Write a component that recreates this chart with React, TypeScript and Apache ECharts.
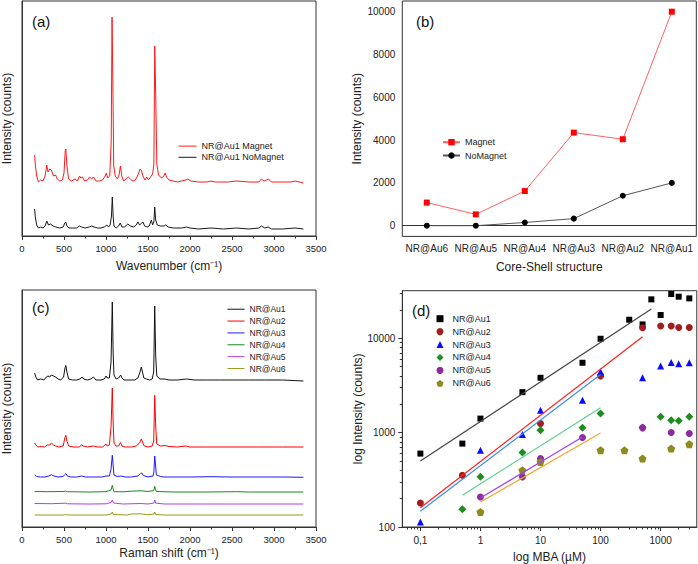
import React, { useEffect, useRef } from "react";
import * as echarts from "echarts";

const FONT = 'Arial, "Liberation Sans", sans-serif';

// ---------- Panel (a): spectra of NR@Au1 with / without magnet ----------
const aMagnet: number[][] = [
  [150, 81], [160, 70], [175, 60], [195, 54], [220, 56], [250, 55], [275, 60], [295, 71], [310, 64], [330, 67],
  [350, 66], [375, 60], [400, 61], [420, 57], [450, 55], [480, 56], [500, 63], [515, 86], [522, 87], [535, 70],
  [555, 57], [590, 55], [630, 57], [660, 55], [685, 60], [700, 58], [720, 59], [745, 55], [780, 56], [805, 59],
  [830, 57], [850, 59], [880, 55], [920, 55], [960, 56], [990, 60], [1005, 63], [1020, 58], [1045, 60], [1062, 95],
  [1072, 219], [1082, 150], [1092, 70], [1110, 60], [1135, 57], [1155, 61], [1172, 70], [1188, 60], [1210, 55],
  [1240, 57], [1265, 59], [1290, 57], [1320, 55], [1350, 56], [1380, 61], [1405, 67], [1420, 66], [1440, 60],
  [1465, 56], [1485, 59], [1505, 56], [1530, 59], [1555, 62], [1570, 72], [1580, 190], [1590, 150], [1605, 72],
  [1625, 61], [1660, 58], [1690, 60], [1705, 63], [1720, 59], [1750, 56], [1800, 55], [1850, 54], [1900, 55],
  [1950, 56], [1975, 57], [2010, 55], [2100, 54], [2200, 54], [2250, 55], [2300, 54], [2450, 54], [2550, 55],
  [2700, 54], [2820, 54], [2850, 57], [2880, 55], [2910, 56], [2935, 57], [2970, 54], [3100, 54], [3200, 54],
  [3250, 55], [3350, 53],
];
const aNoMagnet: number[][] = [
  [150, 27], [160, 18], [175, 11], [195, 8], [220, 9], [250, 8], [275, 10], [295, 15], [315, 11], [340, 12],
  [370, 10], [400, 9], [450, 8], [490, 9], [510, 13], [520, 14], [535, 10], [560, 8], [600, 8], [650, 8],
  [685, 10], [710, 9], [750, 8], [800, 9], [830, 10], [860, 9], [900, 8], [940, 8], [980, 9], [1010, 11],
  [1030, 9], [1050, 11], [1065, 20], [1075, 39], [1085, 20], [1095, 10], [1120, 8], [1150, 10], [1170, 13],
  [1190, 9], [1220, 9], [1260, 12], [1290, 10], [1330, 9], [1360, 11], [1380, 14], [1400, 11], [1425, 13],
  [1440, 14], [1460, 10], [1490, 9], [1515, 10], [1540, 16], [1555, 11], [1570, 14], [1580, 29], [1592, 16],
  [1610, 11], [1650, 10], [1690, 10], [1710, 11], [1740, 9], [1800, 8], [1900, 8], [1960, 9], [2000, 8],
  [2100, 7], [2250, 8], [2400, 7], [2550, 8], [2700, 7], [2820, 8], [2850, 10], [2890, 8], [2930, 9],
  [2970, 7], [3100, 7], [3250, 8], [3350, 7],
];

// ---------- Panel (b): intensity vs core-shell structure ----------
const bCategories = ["NR@Au6", "NR@Au5", "NR@Au4", "NR@Au3", "NR@Au2", "NR@Au1"];
const bMagnet = [1080, 530, 1620, 4350, 4040, 10000];
const bNoMagnet = [0, 0, 150, 330, 1400, 2000];
const bYMajor = [0, 2000, 4000, 6000, 8000, 10000];
const bYMinor = [1000, 3000, 5000, 7000, 9000];

// ---------- Panel (c): spectra of NR@Au1..6 ----------
const cAu1: number[][] = [
  [150, 154], [165, 150], [185, 147], [220, 148], [260, 147], [290, 150], [310, 151], [330, 150], [350, 152],
  [375, 151], [400, 150], [430, 148], [460, 147], [495, 150], [512, 159], [522, 161.5], [535, 155], [555, 148],
  [600, 147], [650, 147], [690, 148], [715, 150], [735, 148], [780, 147], [820, 148], [850, 150], [880, 147],
  [940, 147], [980, 148], [1000, 151], [1015, 149], [1040, 149], [1060, 165], [1075, 225], [1085, 175],
  [1095, 152], [1120, 148], [1150, 149], [1175, 152], [1190, 149], [1215, 147], [1260, 147], [1300, 147],
  [1340, 147], [1380, 149], [1405, 155], [1420, 160], [1432, 156], [1450, 149], [1480, 148], [1520, 147],
  [1550, 148], [1568, 155], [1580, 221], [1592, 170], [1605, 151], [1640, 148], [1700, 148], [1750, 147],
  [1850, 147], [1960, 148], [2050, 147], [2200, 147], [2350, 147], [2500, 147], [2700, 147], [2900, 147],
  [3100, 147], [3350, 146],
];
const cAu2: number[][] = [
  [150, 84], [165, 82], [190, 80], [230, 80.5], [270, 80], [300, 82], [330, 82], [350, 84], [375, 82], [400, 81],
  [440, 80], [490, 81], [510, 89], [522, 91.7], [535, 86], [555, 81], [620, 80], [680, 80], [710, 82], [730, 81],
  [780, 80], [850, 81], [900, 80], [960, 80], [1000, 83], [1015, 81], [1040, 82], [1060, 100], [1075, 139],
  [1085, 105], [1095, 84], [1120, 81], [1150, 81], [1172, 84.5], [1190, 81], [1230, 80], [1300, 80], [1360, 81],
  [1400, 84], [1420, 88], [1435, 85], [1455, 81], [1500, 80], [1550, 81], [1568, 86], [1580, 131.7], [1592, 100],
  [1605, 83], [1650, 81], [1700, 81.5], [1750, 80.5], [1850, 80], [1950, 81], [2000, 80], [2200, 80], [2500, 80],
  [2800, 80], [3100, 80], [3350, 80],
];
const cAu3: number[][] = [
  [150, 52], [175, 50.5], [220, 50], [270, 50], [320, 51], [350, 52.3], [380, 51], [430, 50], [490, 50.5],
  [510, 52.5], [522, 53.5], [540, 51], [580, 50], [650, 50], [710, 51], [760, 50], [850, 50], [950, 50],
  [1000, 51], [1040, 51], [1060, 58], [1075, 71.7], [1085, 62], [1095, 52], [1130, 50.5], [1175, 51], [1230, 50],
  [1300, 50], [1380, 51], [1410, 53.5], [1425, 54], [1445, 51.5], [1500, 50], [1560, 51], [1570, 55], [1580, 71],
  [1590, 62], [1600, 52], [1650, 50.5], [1700, 50], [1800, 50], [2000, 50], [2250, 50.3], [2500, 50], [2800, 50],
  [3100, 50], [3350, 49.7],
];
const cAu4: number[][] = [
  [150, 35.5], [300, 35.3], [500, 35.5], [520, 36], [540, 35.3], [800, 35], [1000, 35.3], [1060, 37],
  [1075, 41.7], [1085, 38], [1095, 35.3], [1200, 35.2], [1300, 35.8], [1420, 36.2], [1500, 35.5], [1570, 36.5],
  [1580, 40.7], [1590, 37.5], [1600, 35.5], [1800, 35], [2200, 35], [2550, 35.3], [2700, 35], [3350, 35],
];
const cAu5: number[][] = [
  [150, 23.5], [350, 23.3], [520, 23.8], [540, 23.2], [800, 23], [1000, 23.2], [1060, 24.5], [1075, 27],
  [1088, 24], [1200, 23], [1420, 23.5], [1500, 23], [1570, 24], [1580, 27], [1592, 23.8], [1700, 23],
  [2200, 23], [3350, 23],
];
const cAu6: number[][] = [
  [150, 12], [500, 12], [520, 12.5], [540, 12], [1000, 12], [1060, 13], [1075, 15], [1088, 12.5], [1250, 12],
  [1300, 13], [1420, 13.2], [1480, 12.3], [1570, 12.8], [1580, 15], [1592, 12.5], [1700, 12], [3350, 12],
];
const cNames = ["NR@Au1", "NR@Au2", "NR@Au3", "NR@Au4", "NR@Au5", "NR@Au6"];

// ---------- Panel (d): log intensity vs log MBA ----------
const dAu1: number[][] = [
  [0.1, 600], [0.5, 766], [1, 1410], [5, 2690], [10, 3820], [50, 5510], [100, 9900], [300, 15750],
  [500, 14050], [700, 25900], [1000, 17670], [1500, 29500], [2000, 27660], [3000, 26530],
];
const dAu2: number[][] = [
  [0.1, 180], [0.5, 354], [10, 1250], [100, 3980], [500, 12960], [1000, 13500], [1500, 13500], [2000, 13050],
  [3000, 13050],
];
const dAu3: number[][] = [
  [0.1, 113], [1, 652], [5, 955], [10, 1730], [50, 2210], [100, 4420], [500, 3820], [1000, 5080], [1500, 5550],
  [2000, 5375], [3000, 5510],
];
const dAu4: number[][] = [
  [0.5, 154], [1, 340], [5, 615], [10, 1062], [50, 1125], [100, 1596], [500, 1133], [1000, 1471], [1500, 1358],
  [2000, 1340], [3000, 1471],
];
const dAu5: number[][] = [
  [1, 208], [5, 340], [10, 531], [50, 887], [500, 1125], [1500, 1003], [3000, 978],
];
const dAu6: number[][] = [
  [1, 144], [5, 400], [10, 490], [100, 652], [250, 650], [500, 531], [1500, 678], [3000, 755],
];
const dFit1: number[][] = [[0.1, 502], [700, 20470]];
const dFit2: number[][] = [[0.1, 160], [500, 10400]];
const dFit3: number[][] = [[0.1, 147], [100, 4140]];
const dFit4: number[][] = [[0.5, 217], [100, 1833]];
const dFit5: number[][] = [[1, 203], [50, 902]];
const dFit6: number[][] = [[1, 184], [100, 990]];
const dXMajor = [0.1, 1, 10, 100, 1000];
const dXMinor = [
  0.06, 0.07, 0.08, 0.09, 0.2, 0.3, 0.4, 0.5, 0.6, 0.7, 0.8, 0.9, 2, 3, 4, 5, 6, 7, 8, 9,
  20, 30, 40, 50, 60, 70, 80, 90, 200, 300, 400, 500, 600, 700, 800, 900, 2000, 3000,
];
const dYMajor = [100, 1000, 10000];
const dYMinor = [200, 300, 400, 500, 600, 700, 800, 900, 2000, 3000, 4000, 5000, 6000, 7000, 8000, 9000, 20000, 30000];

const AX = "#333";
const plain = (v: number) => String(v);
const lbl = (size: number, margin: number) => ({ fontSize: size, color: "#222", margin, fontFamily: FONT });
const nameStyle = { fontSize: 12, color: "#222", fontFamily: FONT };

function spectrumX(gridIndex: number, name: string, nameGap: number) {
  return {
    type: "value", gridIndex, min: 0, max: 3500, interval: 500,
    axisLine: { lineStyle: { color: AX } },
    axisTick: { length: 4, lineStyle: { color: AX } },
    minorTick: { show: true, splitNumber: 2, length: 2.5, lineStyle: { color: AX } },
    axisLabel: { ...lbl(9.5, 7), formatter: plain },
    splitLine: { show: false },
    name, nameLocation: "middle", nameGap, nameTextStyle: nameStyle,
  };
}
function spectrumY(gridIndex: number, max: number) {
  return {
    type: "value", gridIndex, min: 0, max,
    axisLine: { lineStyle: { color: AX } },
    axisTick: { show: false }, axisLabel: { show: false }, splitLine: { show: false },
    name: "Intensity (counts)", nameLocation: "middle", nameGap: 9, nameTextStyle: nameStyle,
  };
}
function lineS(name: string, data: number[][], color: string, xi: number, yi: number) {
  return {
    type: "line", name, data, xAxisIndex: xi, yAxisIndex: yi, showSymbol: false,
    lineStyle: { color, width: 1 }, itemStyle: { color }, silent: true,
  };
}

const PENTAGON = "path://M0,-1 L0.951,-0.309 L0.588,0.809 L-0.588,0.809 L-0.951,-0.309 Z";

export default function App() {
  const ref = useRef<HTMLDivElement>(null);
  useEffect(() => {
    if (!ref.current) return;
    const chart = echarts.init(ref.current, undefined, { renderer: "svg" });
    const cColors = ["#111111", "#ff0000", "#1a1aff", "#1a8a1a", "#b040e0", "#9a9a20"];
    const cData = [cAu1, cAu2, cAu3, cAu4, cAu5, cAu6];
    const dData = [dAu1, dAu2, dAu3, dAu4, dAu5, dAu6];
    const dColors = ["#000000", "#a51c1c", "#0a0aff", "#1e8c1e", "#8e2a9e", "#8d8a1e"];
    const dSymbols = ["rect", "circle", "triangle", "diamond", "circle", PENTAGON];
    const dSizes = [6, 7, 7, 8, 7, 8];
    const dFits = [dFit1, dFit2, dFit3, dFit4, dFit5, dFit6];
    const dFitColors = ["#444444", "#ff2020", "#3a8ee6", "#5ccf8c", "#a040ff", "#f0a830"];

    const option: any = {
      animation: false,
      textStyle: { fontFamily: FONT },
      grid: [
        { left: 21.7, top: 1, width: 294.3, height: 235, show: true, borderColor: AX, borderWidth: 1 },
        { left: 402.3, top: 1, width: 294, height: 235.4, show: true, borderColor: AX, borderWidth: 1 },
        { left: 21.7, top: 290, width: 294.3, height: 237, show: true, borderColor: AX, borderWidth: 1 },
        { left: 402.3, top: 290.7, width: 294.5, height: 236.3, show: true, borderColor: AX, borderWidth: 1 },
      ],
      xAxis: [
        spectrumX(0, "Wavenumber (cm⁻¹)", 24),
        {
          type: "category", gridIndex: 1, data: bCategories, boundaryGap: true,
          axisLine: { lineStyle: { color: AX } },
          axisTick: { alignWithLabel: true, length: 4, lineStyle: { color: AX } },
          axisLabel: { ...lbl(10, 7), interval: 0 },
          splitLine: { show: false },
          name: "Core-Shell structure", nameLocation: "middle", nameGap: 25, nameTextStyle: nameStyle,
        },
        spectrumX(2, "Raman shift (cm⁻¹)", 20),
        {
          type: "log", logBase: 10, gridIndex: 3, min: 0.05, max: 4000,
          axisLine: { lineStyle: { color: AX } },
          axisTick: { customValues: dXMajor, length: 4, lineStyle: { color: AX } },
          axisLabel: {
            ...lbl(10, 8), customValues: dXMajor,
            formatter: (v: number) => (Math.abs(v - 0.1) < 1e-9 ? "0,1" : String(Math.round(v))),
          },
          splitLine: { show: false },
          name: "log MBA (µM)", nameLocation: "middle", nameGap: 24, nameTextStyle: nameStyle,
        },
        {
          type: "log", logBase: 10, gridIndex: 3, min: 0.05, max: 4000, position: "bottom", offset: 0,
          axisLine: { show: false },
          axisTick: { customValues: dXMinor, length: 2.5, lineStyle: { color: AX } },
          axisLabel: { show: false }, splitLine: { show: false },
        },
      ],
      yAxis: [
        spectrumY(0, 235),
        {
          type: "value", gridIndex: 1, min: -500, max: 10500,
          axisLine: { lineStyle: { color: AX } },
          axisTick: { customValues: bYMajor, length: 4, lineStyle: { color: AX } },
          axisLabel: { ...lbl(10, 7), customValues: bYMajor, formatter: plain },
          splitLine: { show: false },
          name: "Intensity (counts)", nameLocation: "middle", nameGap: 39, nameTextStyle: nameStyle,
        },
        {
          type: "value", gridIndex: 1, min: -500, max: 10500, position: "left", offset: 0,
          axisLine: { show: false },
          axisTick: { customValues: bYMinor, length: 2.5, lineStyle: { color: AX } },
          axisLabel: { show: false }, splitLine: { show: false },
        },
        spectrumY(2, 237),
        {
          type: "log", logBase: 10, gridIndex: 3, min: 100, max: 32000,
          axisLine: { lineStyle: { color: AX } },
          axisTick: { customValues: dYMajor, length: 4, lineStyle: { color: AX } },
          axisLabel: { ...lbl(10, 7), customValues: dYMajor, formatter: (v: number) => String(Math.round(v)) },
          splitLine: { show: false },
          name: "log Intensity (counts)", nameLocation: "middle", nameGap: 38, nameTextStyle: nameStyle,
        },
        {
          type: "log", logBase: 10, gridIndex: 3, min: 100, max: 32000, position: "left", offset: 0,
          axisLine: { show: false },
          axisTick: { customValues: dYMinor, length: 2.5, lineStyle: { color: AX } },
          axisLabel: { show: false }, splitLine: { show: false },
        },
      ],
      legend: [
        {
          data: ["NR@Au1 Magnet", "NR@Au1 NoMagnet"], orient: "vertical", left: 178, top: 141.5, padding: 0,
          itemWidth: 18, itemHeight: 9, itemGap: 2, selectedMode: false,
          itemStyle: { opacity: 0 }, lineStyle: { width: 1 },
          textStyle: { fontSize: 9, color: "#222", fontFamily: FONT },
        },
        {
          data: ["Magnet", "NoMagnet"], orient: "vertical", left: 442, top: 137.7, padding: 0,
          itemWidth: 17, itemHeight: 8, itemGap: 4.3, selectedMode: false,
          textStyle: { fontSize: 9, color: "#222", fontFamily: FONT },
        },
        {
          data: cNames.map((n) => "c:" + n), orient: "vertical", left: 227, top: 304.7, padding: 0,
          itemWidth: 17, itemHeight: 8, itemGap: 2.86, selectedMode: false,
          itemStyle: { opacity: 0 }, lineStyle: { width: 1 },
          formatter: (n: string) => n.slice(2),
          textStyle: { fontSize: 8.5, color: "#222", fontFamily: FONT },
        },
        {
          data: cNames.map((n) => "d:" + n), orient: "vertical", left: 436.5, top: 314.2, padding: 0,
          itemWidth: 7, itemHeight: 7, itemGap: 3.92, selectedMode: false,
          formatter: (n: string) => n.slice(2),
          textStyle: { fontSize: 9, color: "#222", fontFamily: FONT, padding: [0, 0, 0, 4] },
        },
      ],
      graphic: [
        { type: "text", left: 32, top: 14, style: { text: "(a)", fontSize: 15, fill: "#111", fontFamily: FONT } },
        { type: "text", left: 416, top: 14, style: { text: "(b)", fontSize: 15, fill: "#111", fontFamily: FONT } },
        { type: "text", left: 32, top: 299.5, style: { text: "(c)", fontSize: 15, fill: "#111", fontFamily: FONT } },
        { type: "text", left: 412, top: 303, style: { text: "(d)", fontSize: 15, fill: "#111", fontFamily: FONT } },
      ],
      series: [
        lineS("NR@Au1 Magnet", aMagnet, "#ff1a1a", 0, 0),
        lineS("NR@Au1 NoMagnet", aNoMagnet, "#1a1a1a", 0, 0),
        {
          type: "line", name: "Magnet", data: bMagnet, xAxisIndex: 1, yAxisIndex: 1,
          symbol: "rect", symbolSize: 6, lineStyle: { color: "#ff6060", width: 1 }, itemStyle: { color: "#ff0000" },
        },
        {
          type: "line", name: "NoMagnet", data: bNoMagnet, xAxisIndex: 1, yAxisIndex: 1,
          symbol: "circle", symbolSize: 6, lineStyle: { color: "#555555", width: 1 }, itemStyle: { color: "#000000" },
        },
        ...cData.map((d, i) => lineS("c:" + cNames[i], d, cColors[i], 2, 3)),
        ...dFits.map((d, i) => ({
          type: "line", name: "fit" + i, data: d, xAxisIndex: 3, yAxisIndex: 4, symbol: "none",
          lineStyle: { color: dFitColors[i], width: 1.2 }, silent: true,
        })),
        ...dData.map((d, i) => ({
          type: "scatter", name: "d:" + cNames[i], data: d, xAxisIndex: 3, yAxisIndex: 4,
          symbol: dSymbols[i], symbolSize: dSizes[i], itemStyle: { color: dColors[i], opacity: 1 },
        })),
      ],
    };
    chart.setOption(option);
    return () => chart.dispose();
  }, []);
  return (
    <div
      ref={ref}
      style={{ position: "absolute", left: 0, top: 0, width: 698, height: 564, background: "#fff" }}
    />
  );
}
